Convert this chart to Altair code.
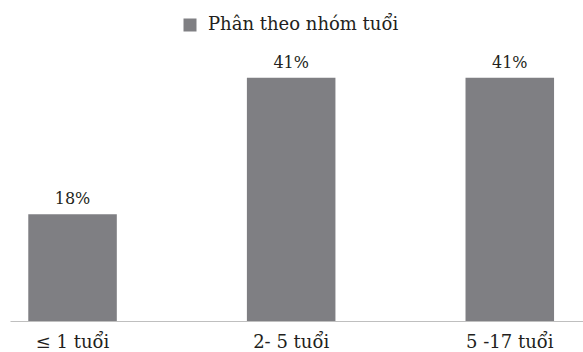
import altair as alt
import pandas as pd

# Share of cases by age group
groups = ["≤ 1 tuổi", "2- 5 tuổi", "5 -17 tuổi"]
shares = [18, 41, 41]
labels = ["18%", "41%", "41%"]
series_name = "Phân theo nhóm tuổi"

df = pd.DataFrame({
    "group": groups,
    "share": shares,
    "label": labels,
    "series": [series_name] * len(groups),
})

FONT = "DejaVu Serif"
BAR = "#7f7f83"
INK = "#231f20"

x = alt.X(
    "group:N",
    sort=groups,
    title=None,
    scale=alt.Scale(paddingInner=0.595, paddingOuter=0.108, align=0.387),
    axis=alt.Axis(
        labelAngle=0,
        labelFont=FONT,
        labelFontSize=18,
        labelColor=INK,
        labelPadding=12,
        ticks=False,
        domainColor="#bfbfbf",
        domainWidth=1,
        grid=False,
    ),
)
y = alt.Y("share:Q", title=None, scale=alt.Scale(domain=[0, 45], nice=False), axis=None)

bars = alt.Chart(df).mark_bar().encode(
    x=x,
    y=y,
    color=alt.Color(
        "series:N",
        scale=alt.Scale(range=[BAR]),
        legend=alt.Legend(
            title=None,
            orient="none",
            legendX=171,
            legendY=-38,
            padding=0,
            symbolType="square",
            symbolSize=169,
            symbolStrokeWidth=0,
            symbolOpacity=1,
            labelFont=FONT,
            labelFontSize=18,
            labelColor=INK,
            labelOffset=9,
            labelLimit=400,
        ),
    ),
)

text = alt.Chart(df).mark_text(
    baseline="alphabetic", dy=-10, font=FONT, fontSize=16, color=INK
).encode(x=x, y=y, text="label:N")

chart = (
    (bars + text)
    .properties(
        width=573,
        height=267,
        autosize=alt.AutoSizeParams(type="none"),
        padding={"left": 10, "top": 54, "right": 0, "bottom": 31},
        background="white",
    )
    .configure_view(stroke=None)
)

chart.save("out.html", embed_options={"renderer": "svg", "actions": False})
